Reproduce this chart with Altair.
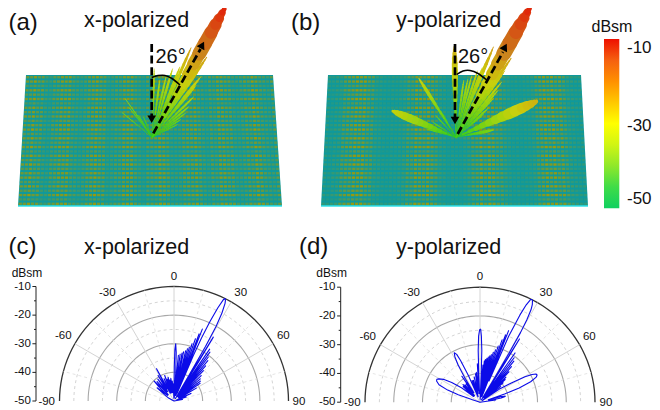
import math
import altair as alt
import pandas as pd

FONT = "Liberation Sans"

# ---------- polar data (angle in degrees, level in dBsm) ----------
c_theta = [-75,-62,-56,-52,-49,-47,-45,-43,-42,-41,-39,-36.5,-34,-32,-30,-28.5,-27,-25.5,-24,-22,-20,-18.5,-17,-15.5,-14,-12.5,-11,-9.5,-8,-6.5,-5,-4,-3,-2,
           -0.5,0.5,1,1.7,2.6,3.5,4.4,5.5,6.5,7.5,8.5,9.5,10.2,11,12,13,13.8,14.5,15.3,16,16.8,17.5,18.3,19,19.8,20.5,21,21.5,22,
           22.4,23,23.6,24.3,25.2,26,26.5,27,27.6,28.6,29.4,30,30.4,30.8,31.6,32.2,32.8,33.6,34.5,35.4,36.3,37.2,38,39,40,41,42,43,44,45.5,47,48.5,50,51.5,53,54.5,56,58,60,63,66,69,72,76,80,85]
c_db = [-50,-48,-46,-42.5,-47,-43,-40.2,-44,-47,-41,-46,-40.5,-46,-39.5,-45,-37.2,-45,-47,-41.5,-47,-40.5,-46,-42,-47,-41.5,-47,-42.5,-47,-42,-47,-43,-47,-44,-49,
        -49,-38,-32,-30,-33,-40,-49,-34,-48,-33.5,-48,-33,-48,-32.5,-48,-32,-48,-31.2,-48,-30.5,-48,-29,-48,-27,-47.5,-25,-47,-23,-38,
        -47,-33,-26,-19.7,-14,-10.5,-10,-10.4,-11.5,-15,-20,-28,-40,-49,-23.8,-35,-48,-47,-28,-48,-28.8,-48,-30.5,-48,-31.6,-48,-33.5,-48,-35.2,-48,-37,-48,-38,-48,-38.5,-48,-39,-48,-41,-48,-43.5,-49,-45.5,-49,-47,-50]

d_theta = [-78,-72,-71,-69.5,-67,-64,-62,-60.5,-58,-55,-52,-50,-48.5,-47,-45.5,-44,-42.5,-41,-39.5,-37,-36,-35,-34,-33,-32,-30.5,-29,-27.5,-26,-25,-23.5,-22.5,
           -21,-20,-18.5,-17,-15,-13,-11,-9,-8,-7,-5.5,-4,
           -3,-2.5,-2,-1.2,-0.3,0.5,1.2,2,2.5,3,3.8,4.5,5.2,6,6.8,7.5,8.3,9,9.8,10.5,11.2,12,12.8,13.5,14.2,15,15.8,16.5,17.3,18,18.8,19.5,20.2,20.8,21.3,21.8,22.3,
           23,23.5,24.6,25.4,26.2,26.7,27.3,28.2,28.9,29.6,30.2,30.6,31,31.3,32,32.6,33.1,34.3,35.5,36.5,37.5,38.5,39.5,40.5,41.5,42.5,43.5,45,46,47,48,49,50,51.5,53,
           54,56,58.5,60.5,62,63.3,64.5,66,68,70,71.5,73.5,75,77,79,80,82,85]
d_db = [-50,-47,-42,-38,-34.5,-33.2,-33,-33.5,-35,-38,-42,-46,-47,-42,-47,-41.5,-47,-42,-47,-42,-46,-39,-46,-46,-40,-35,-32,-30.6,-31.5,-34,-40,-46,
        -48,-42,-48,-42,-47,-41,-47,-40,-46,-39.5,-46,-36.6,
        -47,-40,-32,-27,-24.8,-24.6,-27,-32,-40,-49,-48,-37,-48,-35.5,-48,-35,-48,-34.5,-48,-34,-48,-33.5,-48,-33,-48,-32,-48,-31,-48,-29.5,-48,-27,-47,-25,-40,-23.2,-38,
        -42,-25,-16.6,-12.5,-10.2,-10,-10.2,-11.5,-13.3,-17,-22,-30,-40,-49,-24.1,-36,-48,-47,-29,-48,-30.5,-48,-31.5,-48,-33.5,-48,-35.4,-48,-37.5,-48,-38.2,-48,-39.5,-48,-41,
        -49,-42,-37,-32,-29.5,-28.2,-28,-28.6,-31,-35.5,-41,-47,-42.5,-41,-42.5,-47,-44.5,-50]

# ---------- 3D lobes: azimuth on the page, peak level, greatest width ----------
a_lobe_ang = [1.6,7.4,12.8,16.5,21.4,23.4,-23.5,-32,-34.8,-35,-38,-50.7,62.9,58,54,50,45.7,40.2,38.7,34.2,29.3]
a_lobe_db = [-31.4,-34.3,-32.9,-30.6,-29.5,-23.5,-44,-43,-41.2,-37.2,-39.7,-39.4,-42.3,-40.9,-38.8,-37,-34.3,-31.6,-28.9,-23.7,-10]
a_lobe_wid = [2,2,2,2.4,2.6,3,1,1,1,1,1,1,1.2,1.4,1.6,2,2.2,2.4,3,3.2,14]
b_lobe_ang = [7.7,11.5,14.3,17.9,20.7,21.8,22.5,-30,-43,-57,-74,79,50,48,43.8,41.9,39.6,36.3,34.9,-32.2,-1,-67.5,66,29.7]
b_lobe_db = [-34.5,-34,-32.9,-31.2,-30,-27,-23.6,-41.8,-42,-42.5,-41.6,-39.7,-40.2,-38.2,-35.4,-32.9,-30.7,-27.8,-24,-31.2,-25.6,-31.5,-26.2,-10]
b_lobe_wid = [2,2,2,2.2,2.4,2.6,3,1.2,1.2,1.2,1.5,3,1.6,1.8,2,2.2,2.4,2.8,3.2,3.5,6,8,11,15]
profile_t = [0,.08,.16,.24,.32,.4,.48,.56,.64,.72,.8,.86,.91,.95,.98]
profile_w = [.1,.2,.3,.42,.55,.68,.8,.9,1,.97,.88,.72,.52,.33,.18]

# ---------- metasurface texture weights ----------
band_a = [.75,.9,1,.95,.75,.5,.45,.65]
band_b = [.25,.25,.3,.45,.65,.85,1,1,1,1,.85,.65,.45,.3,.25,.25]
row_pat = [.9,1,.65,1,.75,1,.55,.95,.8,1,.7]
col_pat = [1,.85,1,.75,1,.9,.8,1,.95]

# ---------- text ----------
db_labels = ["-10","-20","-30","-40","-50"]
db_values = [-10,-20,-30,-40,-50]
ang_labels = ["-90","-60","-30","0","30","60","90"]
bar_labels = ["-10","-30","-50"]
bar_stops = ["#10d060","#3fdc48","#8fe82a","#d0f514","#ffff00","#ffc800","#ff9000","#f56010","#ee1000"]
lobe_colors = ["#20c81e","#58d018","#98d414","#c8d010","#cfa816","#c87a20","#d65016","#e21a0a"]
lobe_levels = [-50,-44,-37,-31,-25,-20,-15,-10]

X_S = alt.Scale(domain=[8, 652], nice=False, zero=False)
Y_S = alt.Scale(domain=[410, 8], nice=False, zero=False)
X = alt.X("x:Q", scale=X_S, axis=None)
Y = alt.Y("y:Q", scale=Y_S, axis=None)


def text_layer(xs, ys, texts, size, align="center", baseline="middle", color="#111111"):
    df = pd.DataFrame({"x": xs, "y": ys, "t": texts})
    return alt.Chart(df).mark_text(font=FONT, fontSize=size, align=align, baseline=baseline, color=color).encode(x=X, y=Y, text="t:N")


def seg_layer(df, **kw):
    return alt.Chart(df).mark_rule(**kw).encode(x=X, y=Y, x2="x2:Q", y2="y2:Q")


def polar_xy(cx, cy, R, th, db):
    r = (db + 50) / 40 * R
    return cx + r * math.sin(math.radians(th)), cy - r * math.cos(math.radians(th))


def plane(xl_t, xr_t, xl_b, xr_b, band):
    base = pd.DataFrame({"y": [75, 206], "x": [xl_t, xl_b], "x2": [xr_t, xr_b]})
    area = alt.Chart(base).mark_area(orient="horizontal", color="#0f999c").encode(y=Y, x=X, x2="x2:Q")
    cols, rows = 64, 30
    recs = []
    for j in range(rows):
        v = (j + .5) / rows
        yc = 75 + 131 * v
        xl = xl_t + (xl_b - xl_t) * v
        xr = xr_t + (xr_b - xr_t) * v
        cw = (xr - xl) / cols
        for i in range(cols):
            o = band[i % len(band)] * row_pat[j % len(row_pat)] * col_pat[i % len(col_pat)]
            xc = xl + (i + .5) * cw
            recs.append({"x": xc - cw * .4, "x2": xc + cw * .4, "y": yc - 1.2, "y2": yc + 1.2, "o": round(o, 2)})
    cells = alt.Chart(pd.DataFrame(recs)).mark_rect(color="#9a9a0c").encode(
        x=X, y=Y, x2="x2:Q", y2="y2:Q", opacity=alt.Opacity("o:Q", scale=None, legend=None))
    edge = seg_layer(pd.DataFrame({"x": [xl_b], "x2": [xr_b], "y": [206], "y2": [206]}), color="#35e2e6", strokeWidth=1.6)
    return [area, cells, edge]


def lobes(ox, oy, R, angs, dbs, wids):
    recs = []
    for a, d, w in zip(angs, dbs, wids):
        L = (d + 50) / 40 * R
        s, c = math.sin(math.radians(a)), math.cos(math.radians(a))
        for k in range(len(profile_t) - 1):
            t0, t1 = profile_t[k], profile_t[k + 1]
            recs.append({"x": ox + L * t0 * s, "y": oy - L * t0 * c, "x2": ox + L * t1 * s, "y2": oy - L * t1 * c,
                         "w": max(.7, w * profile_w[k]), "db": -50 + 40 * L * t1 / R})
    return alt.Chart(pd.DataFrame(recs)).mark_rule(strokeCap="round").encode(
        x=X, y=Y, x2="x2:Q", y2="y2:Q",
        size=alt.Size("w:Q", scale=None, legend=None),
        color=alt.Color("db:Q", scale=alt.Scale(domain=lobe_levels, range=lobe_colors), legend=None))


def arrows(vx, vy0, vy1, vtip, dx0, dy0, dx1, dy1, dtipx, dtipy, arc_x, arc_y):
    dash = dict(color="black", strokeWidth=2.7, strokeDash=[8, 3.6])
    out = [seg_layer(pd.DataFrame({"x": [vx], "x2": [vx], "y": [vy0], "y2": [vy1]}), **dash),
           seg_layer(pd.DataFrame({"x": [dx0], "x2": [dx1], "y": [dy0], "y2": [dy1]}), **dash)]
    out.append(alt.Chart(pd.DataFrame({"x": [vx], "y": [vtip - 3.4]})).mark_point(
        shape="triangle-down", filled=True, color="black", opacity=1, size=75).encode(x=X, y=Y))
    out.append(alt.Chart(pd.DataFrame({"x": [dtipx], "y": [dtipy]})).mark_point(
        shape="triangle-up", filled=True, color="black", opacity=1, size=75, angle=28).encode(x=X, y=Y))
    arc = pd.DataFrame({"x": arc_x, "y": arc_y, "i": range(len(arc_x))})
    out.append(alt.Chart(arc).mark_line(color="black", strokeWidth=1.5, interpolate="cardinal").encode(x=X, y=Y, order="i:Q"))
    return out


def polar_panel(cx, cy, R, ax_x, theta, db, lab_xy):
    layers = []
    # circles
    ang_fine = list(range(-90, 91, 3))
    for lev, col, dash, w in [(-15, "#cfcfcf", [3, 3], .9), (-20, "#a8a8a8", None, 1.1), (-25, "#cfcfcf", [3, 3], .9),
                              (-30, "#a8a8a8", None, 1.1), (-35, "#cfcfcf", [3, 3], .9), (-40, "#a8a8a8", None, 1.1),
                              (-45, "#cfcfcf", [3, 3], .9), (-10, "#333333", None, 1.3)]:
        pts = [polar_xy(cx, cy, R, a, lev) for a in ang_fine]
        df = pd.DataFrame({"x": [p[0] for p in pts], "y": [p[1] for p in pts], "i": range(len(pts))})
        kw = dict(color=col, strokeWidth=w)
        if dash:
            kw["strokeDash"] = dash
        layers.append(alt.Chart(df).mark_line(**kw).encode(x=X, y=Y, order="i:Q"))
    # spokes
    for a in [-75, -60, -45, -30, -15, 0, 15, 30, 45, 60, 75]:
        ex, ey = polar_xy(cx, cy, R, a, -10)
        kw = dict(color="#d4d4d4", strokeWidth=1.0) if a % 30 == 0 else dict(color="#dddddd", strokeWidth=.8, strokeDash=[3, 3])
        layers.append(seg_layer(pd.DataFrame({"x": [cx], "x2": [ex], "y": [cy], "y2": [ey]}), **kw))
    # curve
    pts = [polar_xy(cx, cy, R, a, v) for a, v in zip(theta, db)]
    cur = pd.DataFrame({"x": [p[0] for p in pts], "y": [p[1] for p in pts], "i": range(len(pts))})
    layers.append(alt.Chart(cur).mark_line(color="#0b0be8", strokeWidth=1.1, strokeJoin="round").encode(x=X, y=Y, order="i:Q"))
    # axis
    ytop = cy - R
    layers.append(seg_layer(pd.DataFrame({"x": [ax_x], "x2": [ax_x], "y": [ytop], "y2": [cy]}), color="#222222", strokeWidth=1))
    tick = []
    for lev in range(-50, -9, 5):
        yy = cy - (lev + 50) / 40 * R
        tick.append({"x": ax_x - (3.6 if lev % 10 == 0 else 2), "x2": ax_x, "y": yy, "y2": yy})
    layers.append(seg_layer(pd.DataFrame(tick), color="#222222", strokeWidth=1))
    layers.append(text_layer([ax_x - 5.2] * 5, [cy - (v + 50) / 40 * R for v in db_values], db_labels, 11.5, align="right"))
    layers.append(text_layer([ax_x - 9] , [272.7], ["dBsm"], 12))
    layers.append(text_layer([p[0] for p in lab_xy], [p[1] for p in lab_xy], ang_labels, 11.5))
    return layers


layers = []
# panel a
layers += plane(26, 273, 18, 282, band_a)
layers.append(lobes(152.3, 137.3, 150, a_lobe_ang, a_lobe_db, a_lobe_wid))
layers += arrows(151.7, 44, 117, 122.7, 153.3, 133.3, 200.5, 49, 202.3, 45,
                 [151.7, 158, 165, 172, 180], [77.5, 75.6, 75.4, 78.5, 85])
# panel b
layers += plane(328, 581, 321, 588, band_b)
layers.append(lobes(456, 137.3, 151, b_lobe_ang, b_lobe_db, b_lobe_wid))
layers += arrows(455, 44, 117, 124, 457.7, 134, 503, 52, 505, 47,
                 [456.7, 463, 470, 478, 486.7], [74.5, 71, 70.5, 73.5, 80])

layers.append(text_layer([155.5, 458], [62.7, 62.7], ["26°", "26°"], 20, align="left", baseline="alphabetic"))

# colour bar
grad = alt.LinearGradient(gradient="linear", x1=0, x2=0, y1=1, y2=0,
                          stops=[alt.GradientStop(color=c, offset=i / (len(bar_stops) - 1)) for i, c in enumerate(bar_stops)])
layers.append(alt.Chart(pd.DataFrame({"x": [604], "x2": [619.3], "y": [39], "y2": [208.3]})).mark_rect(color=grad).encode(x=X, y=Y, x2="x2:Q", y2="y2:Q"))
layers.append(text_layer([612], [27], ["dBsm"], 16))
layers.append(text_layer([627, 627, 627], [48, 125.7, 199], bar_labels, 17, align="left"))

# polar panels
layers += polar_panel(174, 401, 114.5, 36, c_theta, c_db,
                      [(46.7, 401.7), (63.3, 336), (107.3, 292.7), (174, 276.7), (240.7, 292.7), (283.3, 336), (299, 401.7)])
layers += polar_panel(480, 402.2, 115, 340.7, d_theta, d_db,
                      [(352.3, 402.7), (367.7, 336.7), (411.7, 293.3), (480, 277.3), (546, 293.3), (589.3, 336.7), (606, 402.7)])

# titles
layers.append(text_layer([84, 396, 84, 396], [27, 27, 254.3, 254.3],
                         ["x-polarized", "y-polarized", "x-polarized", "y-polarized"], 21.5, align="left", baseline="alphabetic"))
layers.append(text_layer([8.5, 291, 8.5, 299], [30, 30, 254, 254], ["(a)", "(b)", "(c)", "(d)"], 24, align="left", baseline="alphabetic"))

chart = alt.layer(*layers).properties(
    width=644, height=402, padding=0, autosize=alt.AutoSizeParams(type="none"), background="white"
).configure_view(stroke=None)

chart.save("out.html", embed_options={"renderer": "svg", "actions": False})
